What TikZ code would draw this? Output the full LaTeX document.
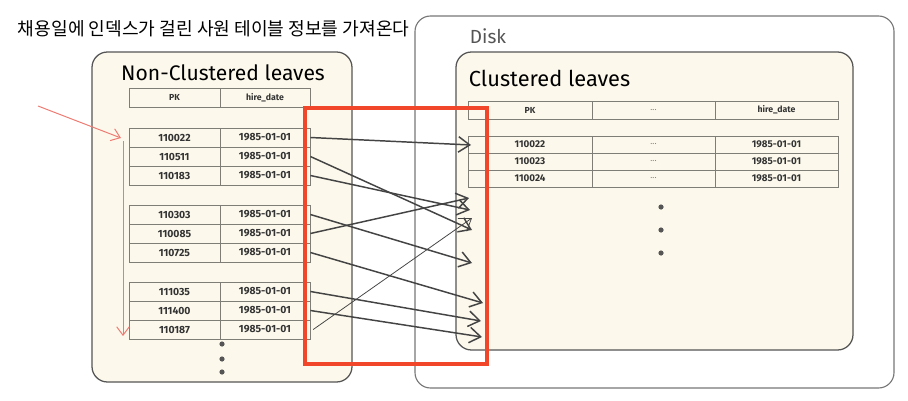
\documentclass[tikz,border=0pt]{standalone}
\usepackage{fontspec}
\setmainfont{Fira Sans}
\newfontfamily\kofont{Noto Sans CJK KR}
\usepackage{tikz}
\usetikzlibrary{arrows.meta, positioning}
\definecolor{ncream}{HTML}{FCF9EC}
\definecolor{nline}{HTML}{555555}
\definecolor{ncell}{HTML}{7E7E76}
\definecolor{ntext}{HTML}{333333}
\definecolor{nred}{HTML}{F2462A}
\definecolor{nredlight}{HTML}{EE7A72}
\definecolor{narrow}{HTML}{444444}
\tikzset{
  leafbox/.style={draw=nline, fill=ncream, line width=0.9pt, rounded corners=11pt},
  diskbox/.style={draw=nline!80, fill=white, line width=0.8pt, rounded corners=11pt},
  lcell/.style={draw=ncell, line width=0.55pt, minimum height=0.475cm,
                inner sep=0pt, font=\fontsize{7.4}{8}\selectfont\bfseries, text=ntext},
  rcell/.style={draw=ncell, line width=0.55pt, minimum height=0.425cm,
                inner sep=0pt, font=\fontsize{7}{8}\selectfont\bfseries, text=ntext},
  hcell/.style={font=\fontsize{6.2}{7}\selectfont\bfseries},
  gap/.style={font=\fontsize{6}{7}\selectfont, text=ncell},
  ptr/.style={-{Straight Barb[length=8pt,width=11pt]}, line width=1.05pt, narrow},
  scan/.style={-{Straight Barb[length=6pt,width=9pt]}, line width=0.7pt, nredlight},
  vdot/.style={fill=nline, radius=2.6},
}

\begin{document}
\begin{tikzpicture}[x=0.025cm, y=-0.025cm]
  \useasboundingbox (0,0) rectangle (908,401);

  % 제목
  \node[anchor=west, font=\kofont\fontsize{12.9}{15}\selectfont, text=black] (title) at (13,29)
    {채용일에 인덱스가 걸린 사원 테이블 정보를 가져온다};

  % Disk / Clustered leaves
  \draw[diskbox] (415,16) rectangle (894,388);
  \node[anchor=west, font=\fontsize{13.5}{15}\selectfont, text=nline] (disk) at (465,36) {Disk};
  \draw[leafbox] (456,52) rectangle (853,350);
  \node[anchor=west, font=\fontsize{15.5}{17}\selectfont, text=black] (cltitle) at (464,78) {Clustered leaves};

  % Non-Clustered leaves
  \draw[leafbox] (92,52) rectangle (352,382);
  \node[font=\fontsize{15}{17}\selectfont, text=black] (nctitle) at (223,73) {Non-Clustered leaves};

  % 왼쪽 테이블
  \node[lcell, hcell, minimum width=2.275cm] (lha) at (174.5,97.5) {PK};
  \node[lcell, hcell, minimum width=2.25cm] (lhb) at (265,97.5) {hire\_date};
  \foreach \i/\y/\pk in {1/137.5/110022, 2/156.5/110511, 3/175.5/110183,
                         4/214.5/110303, 5/233.5/110085, 6/252.5/110725,
                         7/291.5/111035, 8/310.5/111400, 9/329.5/110187} {
    \node[lcell, minimum width=2.275cm] (l\i a) at (174.5,\y) {\pk};
    \node[lcell, minimum width=2.25cm] (l\i b) at (265,\y) {1985-01-01};
  }
  \foreach \y in {344,359,372} \fill[vdot] (222,\y) circle;

  % 오른쪽 테이블
  \node[rcell, hcell, minimum width=3.1cm, minimum height=0.45cm] (rha) at (530,110) {PK};
  \node[rcell, gap, minimum width=3.075cm, minimum height=0.45cm] (rhb) at (653.5,110) {...};
  \node[rcell, hcell, minimum width=3.075cm, minimum height=0.45cm] (rhc) at (776.5,110) {hire\_date};
  \foreach \i/\y/\pk in {1/144.5/110022, 2/161.5/110023, 3/178.5/110024} {
    \node[rcell, minimum width=3.1cm] (r\i a) at (530,\y) {\pk};
    \node[rcell, gap, minimum width=3.075cm] (r\i b) at (653.5,\y) {...};
    \node[rcell, minimum width=3.075cm] (r\i c) at (776.5,\y) {1985-01-01};
  }
  \foreach \y in {207,230,253} \fill[vdot] (661,\y) circle;

  % 스캔 방향
  \coordinate (s0) at (38,106);
  \coordinate (s1) at (121,138);
  \coordinate (s2) at (123,141);
  \coordinate (s3) at (123,336);
  \draw[scan] (s0) -- (s1);
  \draw[scan] (s2) -- (s3);

  % 랜덤 I/O 영역
  \draw[nred, line width=2.2pt] (305,108) rectangle (487,364);

  % 포인터
  \coordinate (t1) at (471,145);
  \coordinate (t2) at (472,230);
  \coordinate (t3) at (470,210);
  \coordinate (t4) at (472,263);
  \coordinate (t5) at (469,198);
  \coordinate (t6) at (483,303);
  \coordinate (t7) at (481,321);
  \coordinate (t8) at (482,337);
  \coordinate (t9) at (472,218);
  \foreach \i in {1,...,8}
    \draw[ptr] (l\i b.east) -- (t\i);
  \draw[ptr, line width=0.55pt] ([xshift=2pt]l9b.east) -- (t9);
\end{tikzpicture}
\end{document}
